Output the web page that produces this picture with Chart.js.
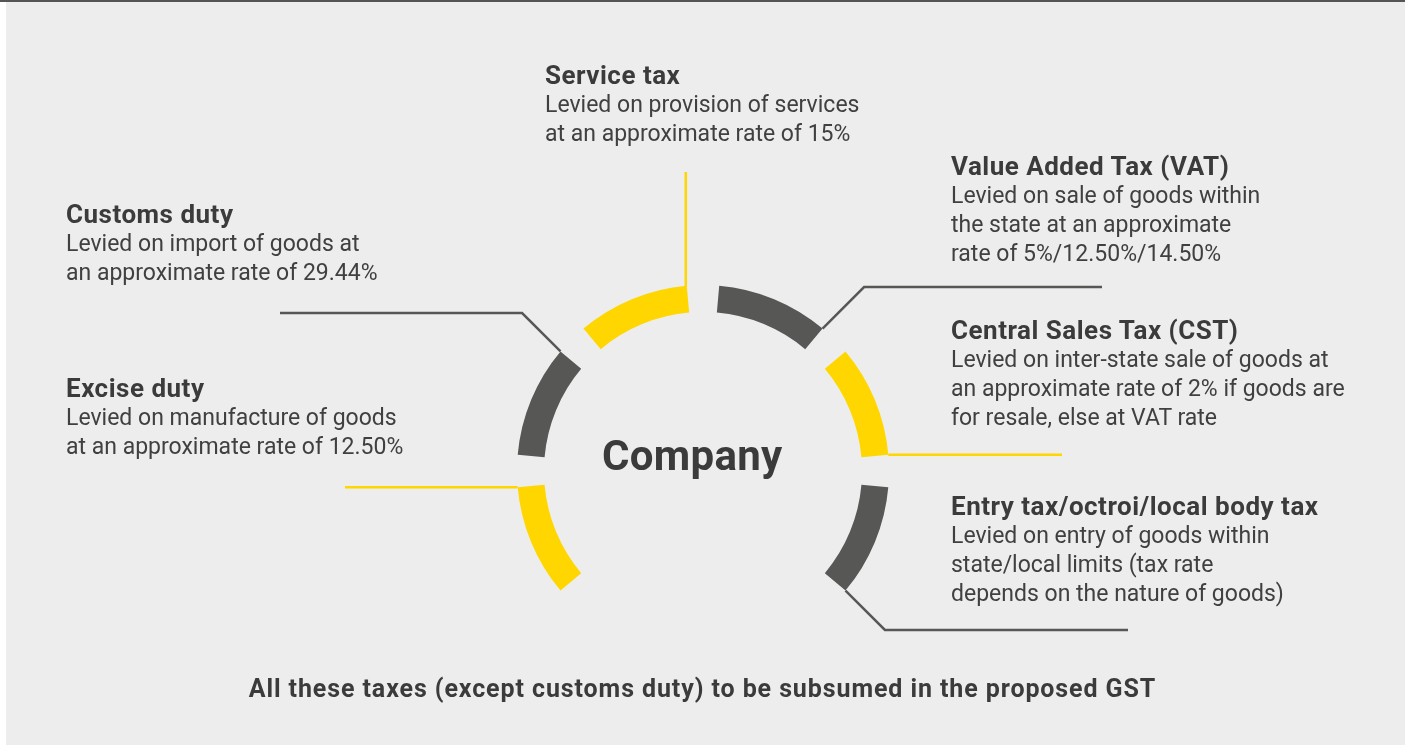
<!DOCTYPE html>
<html>
<head>
<meta charset="utf-8">
<title>Taxes subsumed in GST</title>
<script src="https://cdn.jsdelivr.net/npm/chart.js@4.4.1/dist/chart.umd.min.js"></script>
<style>
    html, body { margin: 0; padding: 0; background: #fff; }
    #wrap { position: relative; width: 1405px; height: 745px; overflow: hidden; }
    #panel { position: absolute; left: 6px; top: 0; width: 1399px; height: 745px; background: #ededed; }
    #topline { position: absolute; left: 0; top: 0; width: 1405px; height: 2px; background: #555; }
    #ring { position: absolute; left: 0; top: 0; }
    .blk { position: absolute; font-family: Roboto, sans-serif; color: #404040; font-size: 23px; line-height: 29px; white-space: nowrap; z-index: 2; }
    .blk b { display: block; font-size: 26px; font-weight: 700; letter-spacing: 0.5px; color: #3b3b3b; }
    #center { position: absolute; left: 602px; top: 432px; font-family: Roboto, sans-serif; font-weight: 700; font-size: 42px; letter-spacing: 0.3px; line-height: 48px; color: #3b3b3b; z-index: 2; }
    #footer { position: absolute; left: 0; top: 674px; width: 1405px; text-align: center; font-family: Roboto, sans-serif; font-weight: 700; font-size: 25px; letter-spacing: 0.9px; line-height: 29px; color: #3b3b3b; z-index: 2; }
</style>
</head>
<body>
<div id="wrap">
    <div id="panel"></div>
    <div id="topline"></div>
    <canvas id="ring" width="1405" height="745"></canvas>
    <div id="center"></div>
    <div id="footer"></div>
</div>
<script>
// ---- data: ring segments, clockwise from the top ----
var taxNames = ['Value Added Tax (VAT)', 'Central Sales Tax (CST)', 'Entry tax/octroi/local body tax',
                'Excise duty', 'Customs duty', 'Service tax'];
var taxNotes = [
    ['Levied on sale of goods within', 'the state at an approximate', 'rate of 5%/12.50%/14.50%'],
    ['Levied on inter-state sale of goods at', 'an approximate rate of 2% if goods are', 'for resale, else at VAT rate'],
    ['Levied on entry of goods within', 'state/local limits (tax rate', 'depends on the nature of goods)'],
    ['Levied on manufacture of goods', 'at an approximate rate of 12.50%'],
    ['Levied on import of goods at', 'an approximate rate of 29.44%'],
    ['Levied on provision of services', 'at an approximate rate of 15%']
];
var arcDegrees = [35, 35, 35, 35, 35, 35];   // size of each segment
var gapDegrees = [10, 10, 100, 10, 10, 10];  // empty space after each segment
var arcTones = ['dark', 'yellow', 'dark', 'yellow', 'dark', 'yellow'];
var centerLabel = 'Company';
var footerNote = 'All these taxes (except customs duty) to be subsumed in the proposed GST';

// ---- layout ----
var toneColors = { dark: '#575756', yellow: '#ffd600' };
var blockPos = [
    { x: 951, y: 152 },
    { x: 951, y: 316 },
    { x: 951, y: 492 },
    { x: 66, y: 374 },
    { x: 66, y: 200 },
    { x: 545, y: 61 }
];
// leader lines leave the outer corner of each segment's end
var leaders = [
    { bendY: 287, toX: 1102 },
    { bendY: null, toX: 1062 },
    { bendY: 630, toX: 1128 },
    { bendY: null, toX: 345 },
    { bendY: 313, toX: 280 },
    { upTo: 172 }
];

// text blocks
taxNames.forEach(function (name, i) {
    var div = document.createElement('div');
    div.className = 'blk';
    div.style.left = blockPos[i].x + 'px';
    div.style.top = blockPos[i].y + 'px';
    var b = document.createElement('b');
    b.textContent = name;
    div.appendChild(b);
    taxNotes[i].forEach(function (line) {
        var d = document.createElement('div');
        d.textContent = line;
        div.appendChild(d);
    });
    document.getElementById('wrap').appendChild(div);
});
document.getElementById('center').textContent = centerLabel;
document.getElementById('footer').textContent = footerNote;

// interleave segments and gaps for the doughnut
var ringData = [], ringLabels = [], ringColors = [];
for (var i = 0; i < taxNames.length; i++) {
    ringData.push(arcDegrees[i]);
    ringLabels.push(taxNames[i]);
    ringColors.push(toneColors[arcTones[i]]);
    ringData.push(gapDegrees[i]);
    ringLabels.push('');
    ringColors.push('rgba(0,0,0,0)');
}

var leaderPlugin = {
    id: 'leaders',
    afterDatasetsDraw: function (chart) {
        var ctx = chart.ctx;
        var meta = chart.getDatasetMeta(0);
        ctx.save();
        ctx.lineWidth = 2.5;
        ctx.lineCap = 'butt';
        ctx.lineJoin = 'miter';
        leaders.forEach(function (ld, i) {
            var p = meta.data[2 * i].getProps(['x', 'y', 'endAngle', 'outerRadius'], true);
            var cx = p.x + Math.cos(p.endAngle) * p.outerRadius;
            var cy = p.y + Math.sin(p.endAngle) * p.outerRadius;
            ctx.strokeStyle = toneColors[arcTones[i]];
            ctx.beginPath();
            if (ld.upTo !== undefined) {
                ctx.moveTo(cx - 1, cy + 1);
                ctx.lineTo(cx - 1, ld.upTo);
            } else {
                ctx.moveTo(cx, cy);
                var by = ld.bendY === null ? cy : ld.bendY;
                var dir = ld.toX > cx ? 1 : -1;
                var bx = cx + dir * Math.abs(by - cy);
                ctx.lineTo(bx, by);
                ctx.lineTo(ld.toX, by);
            }
            ctx.stroke();
        });
        ctx.restore();
    }
};

new Chart(document.getElementById('ring'), {
    type: 'doughnut',
    data: {
        labels: ringLabels,
        datasets: [{
            data: ringData,
            backgroundColor: ringColors,
            borderWidth: 0,
            hoverOffset: 0
        }]
    },
    options: {
        responsive: false,
        animation: false,
        events: [],
        rotation: 5,
        cutout: '85.5%',
        layout: { padding: { left: 517, right: 516, top: 285, bottom: 88 } },
        plugins: {
            legend: { display: false },
            tooltip: { enabled: false }
        }
    },
    plugins: [leaderPlugin]
});
</script>
</body>
</html>
